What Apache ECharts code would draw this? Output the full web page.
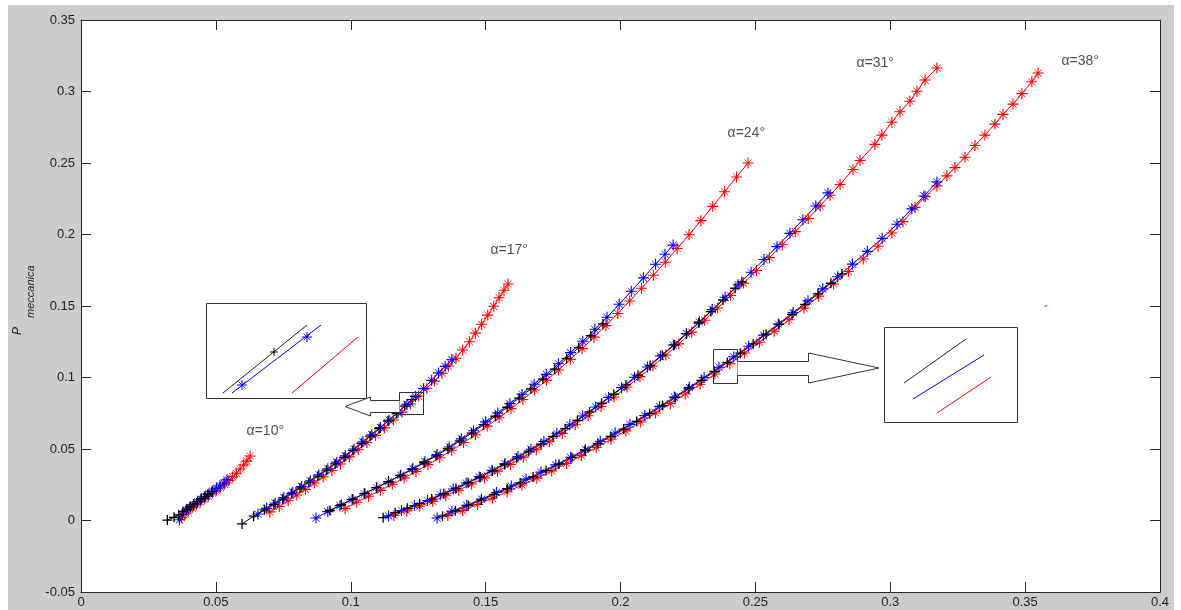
<!DOCTYPE html>
<html>
<head>
<meta charset="utf-8">
<script src="https://cdn.jsdelivr.net/npm/echarts@6/dist/echarts.min.js"></script>
<style>
html,body{margin:0;padding:0;background:#fff;}
#bg{position:absolute;left:8px;top:5px;width:1166px;height:605px;background:#cccccc;}
#chart{position:absolute;left:0;top:0;width:1181px;height:610px;}
</style>
</head>
<body>
<div id="bg"></div>
<div id="chart"></div>
<script>
// ---------- tick labels ----------
const X_TICKS = [0, 0.05, 0.1, 0.15, 0.2, 0.25, 0.3, 0.35, 0.4];
const Y_TICKS = [-0.05, 0, 0.05, 0.1, 0.15, 0.2, 0.25, 0.3, 0.35];
const Y_NAME = ['P', 'meccanica'];

// ---------- curve labels ----------
const ALPHA_LABELS = ['α=10°', 'α=17°', 'α=24°', 'α=31°', 'α=38°'];
const ALPHA_ANCHORS = [[0.0612, 0.0626], [0.1516, 0.1892], [0.2395, 0.2710], [0.2873, 0.3198], [0.3633, 0.3213]];

// ---------- data: alpha = 10 deg ----------
const black10 = [[0.0320,0.0003],[0.0345,0.0022],[0.0362,0.0040],[0.0378,0.0062],[0.0392,0.0080],[0.0405,0.0098],[0.0418,0.0114],[0.0432,0.0132],[0.0445,0.0152],[0.0458,0.0168],[0.0470,0.0184],[0.0485,0.0202]];
const blue10 = [[0.0365,0.0005],[0.0375,0.0040],[0.0390,0.0072],[0.0405,0.0092],[0.0418,0.0110],[0.0432,0.0130],[0.0446,0.0150],[0.0460,0.0168],[0.0474,0.0186],[0.0488,0.0205],[0.0502,0.0225],[0.0515,0.0243],[0.0530,0.0262],[0.0541,0.0285]];
const red10 = [[0.0372,0.0020],[0.0385,0.0045],[0.0398,0.0068],[0.0412,0.0090],[0.0428,0.0110],[0.0442,0.0130],[0.0458,0.0150],[0.0472,0.0170],[0.0488,0.0192],[0.0502,0.0212],[0.0517,0.0232],[0.0532,0.0255],[0.0548,0.0280],[0.0562,0.0305],[0.0576,0.0330],[0.0590,0.0360],[0.0603,0.0388],[0.0615,0.0415],[0.0627,0.0451]];

// ---------- data: alpha = 17 deg ----------
const black17 = [[0.0597,-0.0024],[0.0640,0.0030],[0.0680,0.0075],[0.0715,0.0112],[0.0748,0.0150],[0.0780,0.0188],[0.0812,0.0228],[0.0845,0.0268],[0.0878,0.0310],[0.0910,0.0352],[0.0942,0.0396],[0.0975,0.0442],[0.1008,0.0490],[0.1040,0.0540],[0.1072,0.0590],[0.1105,0.0642],[0.1138,0.0695],[0.1170,0.0748],[0.1200,0.0800],[0.1227,0.0845]];
const blue17 = [[0.0656,0.0045],[0.0688,0.0085],[0.0720,0.0122],[0.0752,0.0160],[0.0785,0.0198],[0.0818,0.0238],[0.0850,0.0278],[0.0882,0.0320],[0.0915,0.0362],[0.0948,0.0408],[0.0980,0.0452],[0.1012,0.0500],[0.1045,0.0550],[0.1078,0.0600],[0.1110,0.0650],[0.1142,0.0702],[0.1175,0.0755],[0.1208,0.0812],[0.1240,0.0868],[0.1270,0.0922],[0.1300,0.0980],[0.1325,0.1032],[0.1350,0.1078],[0.1375,0.1125]];
const red17 = [[0.0700,0.0060],[0.0735,0.0098],[0.0768,0.0138],[0.0800,0.0178],[0.0832,0.0218],[0.0865,0.0262],[0.0898,0.0305],[0.0930,0.0350],[0.0962,0.0395],[0.0995,0.0445],[0.1028,0.0495],[0.1060,0.0545],[0.1092,0.0595],[0.1125,0.0648],[0.1158,0.0703],[0.1190,0.0758],[0.1222,0.0815],[0.1252,0.0870],[0.1282,0.0925],[0.1310,0.0975],[0.1338,0.1030],[0.1362,0.1080],[0.1390,0.1135],[0.1415,0.1192],[0.1440,0.1250],[0.1462,0.1310],[0.1485,0.1372],[0.1508,0.1436],[0.1530,0.1498],[0.1550,0.1558],[0.1568,0.1610],[0.1583,0.1654]];

// ---------- data: alpha = 24 deg ----------
const black24 = [[0.0923,0.0070],[0.0965,0.0110],[0.1008,0.0150],[0.1052,0.0190],[0.1096,0.0230],[0.1140,0.0271],[0.1184,0.0314],[0.1228,0.0358],[0.1272,0.0404],[0.1316,0.0452],[0.1360,0.0502],[0.1404,0.0557],[0.1448,0.0611],[0.1492,0.0670],[0.1536,0.0729],[0.1580,0.0792],[0.1624,0.0856],[0.1668,0.0921],[0.1712,0.0989],[0.1756,0.1058],[0.1800,0.1133],[0.1845,0.1209],[0.1890,0.1292],[0.1935,0.1375]];
const blue24 = [[0.0871,0.0017],[0.0915,0.0062],[0.0960,0.0104],[0.1005,0.0146],[0.1050,0.0187],[0.1095,0.0229],[0.1140,0.0272],[0.1185,0.0317],[0.1230,0.0363],[0.1275,0.0412],[0.1320,0.0462],[0.1365,0.0514],[0.1410,0.0571],[0.1455,0.0628],[0.1500,0.0690],[0.1545,0.0751],[0.1590,0.0817],[0.1635,0.0883],[0.1680,0.0953],[0.1725,0.1022],[0.1770,0.1096],[0.1815,0.1174],[0.1860,0.1253],[0.1905,0.1337],[0.1950,0.1421],[0.1995,0.1512],[0.2040,0.1603],[0.2085,0.1697],[0.2130,0.1792],[0.2165,0.1862],[0.2195,0.1926]];
const red24 = [[0.0979,0.0083],[0.1022,0.0128],[0.1066,0.0170],[0.1110,0.0211],[0.1154,0.0254],[0.1198,0.0298],[0.1242,0.0343],[0.1286,0.0391],[0.1330,0.0439],[0.1374,0.0491],[0.1418,0.0545],[0.1462,0.0600],[0.1506,0.0660],[0.1550,0.0719],[0.1594,0.0782],[0.1638,0.0846],[0.1682,0.0913],[0.1726,0.0981],[0.1770,0.1052],[0.1814,0.1127],[0.1858,0.1202],[0.1902,0.1282],[0.1946,0.1363],[0.1990,0.1448],[0.2034,0.1535],[0.2078,0.1624],[0.2122,0.1715],[0.2166,0.1806],[0.2210,0.1902],[0.2254,0.1998],[0.2298,0.2097],[0.2342,0.2197],[0.2386,0.2299],[0.2430,0.2402],[0.2473,0.2500]];

// ---------- data: alpha = 31 deg ----------
const black31 = [[0.1120,0.0020],[0.1165,0.0055],[0.1210,0.0085],[0.1255,0.0118],[0.1300,0.0150],[0.1345,0.0187],[0.1390,0.0224],[0.1435,0.0264],[0.1480,0.0304],[0.1525,0.0347],[0.1570,0.0391],[0.1615,0.0436],[0.1660,0.0485],[0.1705,0.0534],[0.1750,0.0588],[0.1795,0.0642],[0.1840,0.0700],[0.1885,0.0759],[0.1930,0.0820],[0.1975,0.0883],[0.2020,0.0948],[0.2065,0.1016],[0.2110,0.1084],[0.2155,0.1156],[0.2200,0.1228],[0.2245,0.1305],[0.2290,0.1381],[0.2335,0.1461],[0.2380,0.1542],[0.2425,0.1624],[0.2450,0.1669]];
const blue31 = [[0.1140,0.0032],[0.1188,0.0070],[0.1236,0.0105],[0.1284,0.0140],[0.1332,0.0180],[0.1380,0.0220],[0.1428,0.0262],[0.1476,0.0305],[0.1524,0.0351],[0.1572,0.0398],[0.1620,0.0447],[0.1668,0.0498],[0.1716,0.0552],[0.1764,0.0610],[0.1812,0.0669],[0.1860,0.0731],[0.1908,0.0794],[0.1956,0.0861],[0.2004,0.0929],[0.2052,0.1001],[0.2100,0.1073],[0.2148,0.1150],[0.2196,0.1227],[0.2244,0.1308],[0.2292,0.1389],[0.2340,0.1475],[0.2388,0.1561],[0.2436,0.1649],[0.2484,0.1736],[0.2532,0.1825],[0.2580,0.1915],[0.2628,0.2008],[0.2676,0.2103],[0.2724,0.2199],[0.2769,0.2291]];
const red31 = [[0.1160,0.0035],[0.1208,0.0067],[0.1256,0.0100],[0.1304,0.0134],[0.1352,0.0173],[0.1400,0.0212],[0.1448,0.0255],[0.1496,0.0298],[0.1544,0.0345],[0.1592,0.0392],[0.1640,0.0443],[0.1688,0.0495],[0.1736,0.0551],[0.1784,0.0609],[0.1832,0.0670],[0.1880,0.0732],[0.1928,0.0797],[0.1976,0.0864],[0.2024,0.0934],[0.2072,0.1006],[0.2120,0.1080],[0.2168,0.1157],[0.2216,0.1235],[0.2264,0.1317],[0.2312,0.1400],[0.2360,0.1486],[0.2408,0.1573],[0.2456,0.1660],[0.2504,0.1748],[0.2552,0.1838],[0.2600,0.1928],[0.2648,0.2020],[0.2696,0.2112],[0.2740,0.2200],[0.2777,0.2275],[0.2814,0.2350],[0.2862,0.2455],[0.2888,0.2518],[0.2943,0.2630],[0.2969,0.2695],[0.3006,0.2785],[0.3036,0.2858],[0.3073,0.2932],[0.3099,0.3002],[0.3129,0.3080],[0.3173,0.3164]];

// ---------- data: alpha = 38 deg ----------
const black38 = [[0.1340,0.0030],[0.1388,0.0068],[0.1436,0.0105],[0.1484,0.0143],[0.1532,0.0182],[0.1580,0.0222],[0.1628,0.0263],[0.1676,0.0305],[0.1724,0.0349],[0.1772,0.0394],[0.1820,0.0440],[0.1868,0.0488],[0.1916,0.0537],[0.1964,0.0588],[0.2012,0.0639],[0.2060,0.0693],[0.2108,0.0747],[0.2156,0.0804],[0.2204,0.0861],[0.2252,0.0920],[0.2300,0.0980],[0.2348,0.1042],[0.2396,0.1105],[0.2444,0.1170],[0.2492,0.1235],[0.2540,0.1303],[0.2588,0.1371],[0.2636,0.1441],[0.2684,0.1512],[0.2732,0.1585],[0.2780,0.1659],[0.2821,0.1724]];
const blue38 = [[0.1320,0.0017],[0.1375,0.0065],[0.1430,0.0106],[0.1485,0.0150],[0.1540,0.0196],[0.1595,0.0241],[0.1650,0.0289],[0.1705,0.0338],[0.1760,0.0389],[0.1815,0.0442],[0.1870,0.0497],[0.1925,0.0554],[0.1980,0.0612],[0.2035,0.0672],[0.2090,0.0734],[0.2145,0.0798],[0.2200,0.0863],[0.2255,0.0931],[0.2310,0.1000],[0.2365,0.1072],[0.2420,0.1144],[0.2475,0.1219],[0.2530,0.1296],[0.2585,0.1374],[0.2640,0.1454],[0.2695,0.1536],[0.2750,0.1620],[0.2805,0.1705],[0.2860,0.1793],[0.2915,0.1882],[0.2970,0.1973],[0.3025,0.2072],[0.3080,0.2179],[0.3125,0.2269],[0.3173,0.2368]];
const red38 = [[0.1360,0.0035],[0.1415,0.0069],[0.1470,0.0112],[0.1525,0.0156],[0.1580,0.0201],[0.1635,0.0248],[0.1690,0.0296],[0.1745,0.0347],[0.1800,0.0399],[0.1855,0.0454],[0.1910,0.0510],[0.1965,0.0568],[0.2020,0.0627],[0.2075,0.0689],[0.2130,0.0752],[0.2185,0.0817],[0.2240,0.0885],[0.2295,0.0953],[0.2350,0.1024],[0.2405,0.1096],[0.2460,0.1171],[0.2515,0.1246],[0.2570,0.1324],[0.2625,0.1404],[0.2680,0.1485],[0.2735,0.1569],[0.2790,0.1654],[0.2845,0.1741],[0.2900,0.1829],[0.2955,0.1918],[0.3006,0.2010],[0.3047,0.2090],[0.3092,0.2190],[0.3130,0.2265],[0.3173,0.2340],[0.3210,0.2410],[0.3240,0.2468],[0.3277,0.2540],[0.3314,0.2622],[0.3351,0.2695],[0.3388,0.2772],[0.3418,0.2840],[0.3455,0.2912],[0.3488,0.2985],[0.3525,0.3068],[0.3548,0.3129]];

// stray red dash at the right
const strayRed = [[0.3572,0.1497],[0.3582,0.1501]];

// ---------- styling ----------
const RED = '#ff0000', BLUE = '#0000ff', BLACK = '#000000';
const SYM_PLUS = 'path://M4.35,0H5.65V10H4.35Z M0,4.35H10V5.65H0Z';
const SYM_STAR = 'path://M4.5,0H5.5V10H4.5Z M0,4.5H10V5.5H0Z M1.9,1.5L8.5,8.1L8.1,8.5L1.5,1.9Z M8.1,1.5L8.5,1.9L1.9,8.5L1.5,8.1Z';
const FONT = '"Liberation Sans", Arial, Helvetica, sans-serif';
const AXIS_COLOR = '#262626';

function curve(name, data, color, sym, size) {
  return {
    name: name, type: 'line', data: data,
    symbol: sym, symbolSize: size, showSymbol: true, showAllSymbol: true,
    lineStyle: { color: color, width: 1 },
    itemStyle: { color: color, borderWidth: 0 },
    emphasis: { disabled: true }, silent: true, animation: false
  };
}

const series = [
  curve('red10', red10, RED, SYM_STAR, 11),
  curve('red17', red17, RED, SYM_STAR, 11),
  curve('red24', red24, RED, SYM_STAR, 11),
  curve('red31', red31, RED, SYM_STAR, 11),
  curve('red38', red38, RED, SYM_STAR, 11),
  curve('blue10', blue10, BLUE, SYM_STAR, 11),
  curve('blue17', blue17, BLUE, SYM_STAR, 11),
  curve('blue24', blue24, BLUE, SYM_STAR, 11),
  curve('blue31', blue31, BLUE, SYM_STAR, 11),
  curve('blue38', blue38, BLUE, SYM_STAR, 11),
  curve('black10', black10, BLACK, SYM_PLUS, 10),
  curve('black17', black17, BLACK, SYM_PLUS, 10),
  curve('black24', black24, BLACK, SYM_PLUS, 10),
  curve('black31', black31, BLACK, SYM_PLUS, 10),
  curve('black38', black38, BLACK, SYM_PLUS, 10),
  { type: 'line', data: strayRed, symbol: 'none', lineStyle: { color: RED, width: 1 }, silent: true, animation: false },
  {
    type: 'scatter', symbolSize: 1, itemStyle: { color: 'rgba(0,0,0,0)' }, silent: true, animation: false,
    data: ALPHA_LABELS.map((t, i) => ({ name: t, value: ALPHA_ANCHORS[i] })),
    label: { show: true, position: 'right', distance: 0, formatter: '{b}', fontSize: 14, color: '#222', fontFamily: FONT }
  }
];

function axisCommon(ticks, showLabel, labelMargin) {
  return {
    type: 'value', min: ticks[0], max: ticks[ticks.length - 1], interval: ticks[1] - ticks[0],
    splitLine: { show: false },
    axisLine: { show: true, onZero: false, lineStyle: { color: AXIS_COLOR, width: 1 } },
    axisTick: { show: true, inside: true, length: 10, lineStyle: { color: AXIS_COLOR, width: 1 } },
    axisLabel: { show: showLabel, fontSize: 13, color: '#222', fontFamily: FONT, margin: labelMargin,
                 formatter: v => String(+v.toFixed(4)) }
  };
}

// zoom-inset decorations (pixel layout)
function seg(x1, y1, x2, y2, color, w) {
  return { type: 'line', shape: { x1: x1, y1: y1, x2: x2, y2: y2 }, style: { stroke: color, lineWidth: w || 1 }, z: 100, silent: true };
}
function plusMark(cx, cy, color) {
  return [seg(cx - 4, cy, cx + 4, cy, color), seg(cx, cy - 4, cx, cy + 4, color)];
}
function starMark(cx, cy, color) {
  return [seg(cx - 5, cy, cx + 5, cy, color), seg(cx, cy - 5, cx, cy + 5, color),
          seg(cx - 3.5, cy - 3.5, cx + 3.5, cy + 3.5, color, 0.8), seg(cx - 3.5, cy + 3.5, cx + 3.5, cy - 3.5, color, 0.8)];
}
const BOX = '#333';
const graphic = [
  // left inset
  { type: 'rect', shape: { x: 206.5, y: 303.5, width: 160, height: 95 }, style: { fill: '#fff', stroke: BOX, lineWidth: 1 }, z: 99, silent: true },
  seg(223, 393, 307, 325, '#222'),
  seg(232, 393, 321, 325, BLUE),
  seg(292, 393, 358, 337, RED),
  ...plusMark(274, 352, BLACK),
  ...starMark(242, 385, BLUE),
  ...starMark(307, 337, BLUE),
  { type: 'rect', shape: { x: 399.5, y: 392.5, width: 24, height: 22 }, style: { fill: 'none', stroke: BOX, lineWidth: 1 }, z: 100, silent: true },
  { type: 'polyline', shape: { points: [[399.5, 400.5], [370.5, 400.5], [370.5, 397], [345, 406.5], [370.5, 416], [370.5, 412.5], [399.5, 412.5]] },
    style: { fill: '#fff', stroke: BOX, lineWidth: 1 }, z: 100, silent: true },
  // right inset
  { type: 'rect', shape: { x: 884.5, y: 327.5, width: 133, height: 95 }, style: { fill: '#fff', stroke: BOX, lineWidth: 1 }, z: 99, silent: true },
  seg(904, 383, 966, 339, '#222'),
  seg(913, 399, 984, 355, BLUE),
  seg(937, 413, 991, 377, RED),
  { type: 'rect', shape: { x: 713.5, y: 349.5, width: 24, height: 34 }, style: { fill: 'none', stroke: BOX, lineWidth: 1 }, z: 100, silent: true },
  { type: 'polyline', shape: { points: [[737.5, 361.5], [808.5, 361.5], [808.5, 353], [879, 368], [808.5, 383], [808.5, 375.5], [737.5, 375.5]] },
    style: { fill: '#fff', stroke: BOX, lineWidth: 1 }, z: 100, silent: true },
  // y-axis title P_meccanica
  { type: 'text', x: 18, y: 335, rotation: Math.PI / 2, silent: true, z: 100,
    style: { text: Y_NAME[0], font: 'italic 12px ' + FONT, fill: '#222', textAlign: 'left', verticalAlign: 'middle', textVerticalAlign: 'middle' } },
  { type: 'text', x: 31, y: 318, rotation: Math.PI / 2, silent: true, z: 100,
    style: { text: Y_NAME[1], font: 'italic 11px ' + FONT, fill: '#222', textAlign: 'left', verticalAlign: 'middle', textVerticalAlign: 'middle' } }
];

const chart = echarts.init(document.getElementById('chart'), null, { renderer: 'canvas' });
chart.setOption({
  backgroundColor: 'transparent',
  animation: false,
  grid: { left: 81, top: 20, right: 21, bottom: 18, show: true, backgroundColor: '#ffffff', borderWidth: 0 },
  xAxis: [
    Object.assign(axisCommon(X_TICKS, true, 4), { position: 'bottom' }),
    Object.assign(axisCommon(X_TICKS, false, 4), { position: 'top' })
  ],
  yAxis: [
    Object.assign(axisCommon(Y_TICKS, true, 6), { position: 'left' }),
    Object.assign(axisCommon(Y_TICKS, false, 6), { position: 'right' })
  ],
  series: series,
  graphic: graphic
});
</script>
</body>
</html>
